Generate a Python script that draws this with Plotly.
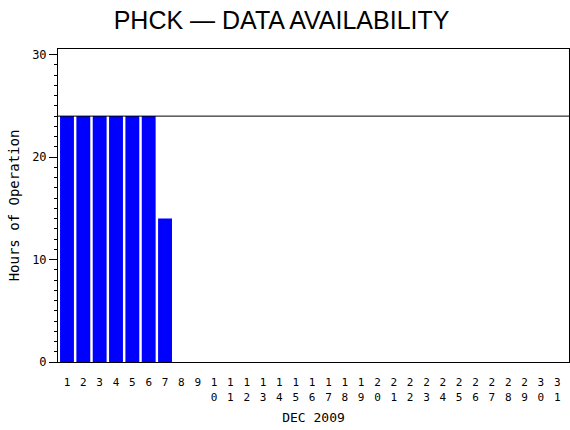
import plotly.graph_objects as go

days = list(range(1, 32))
hours = [24, 24, 24, 24, 24, 24, 14] + [0] * 24
tick_labels = [str(d) if d < 10 else "<br>".join(str(d)) for d in days]
y_ticks = [0, 10, 20, 30]
full_day = 24

mono = "DejaVu Sans Mono, monospace"

fig = go.Figure()
fig.add_trace(go.Bar(x=days, y=hours, marker=dict(color="#0000ff", line=dict(width=0)),
                     width=0.85))
fig.add_hline(y=full_day, line=dict(color="black", width=1))

fig.update_layout(
    width=570, height=430,
    margin=dict(l=58, r=1, t=49, b=68),
    paper_bgcolor="white", plot_bgcolor="white",
    showlegend=False,
    title=dict(text="PHCK \u2014 DATA AVAILABILITY", x=0.494, xanchor="center",
               y=0.953, yanchor="middle",
               font=dict(family="Liberation Sans, Arial", size=25, color="black")),
    font=dict(family=mono, size=12, color="black"),
)
fig.update_xaxes(
    range=[0.45, 31.72], tickmode="array", tickvals=days, ticktext=tick_labels,
    showline=True, linecolor="black", linewidth=1, mirror=True,
    showgrid=False, zeroline=False, ticks="", tickangle=0,
    ticklabelstandoff=10, automargin=False,
    tickfont=dict(family=mono, size=11),
    title=dict(text="DEC 2009", font=dict(family=mono, size=13), standoff=10),
)
fig.update_yaxes(
    range=[0, 30.55], tickmode="array", tickvals=y_ticks,
    showline=True, linecolor="black", linewidth=1, mirror=True,
    showgrid=False, zeroline=False, ticks="outside", ticklen=8, tickcolor="black",
    minor=dict(dtick=1, ticks="outside", ticklen=3, tickcolor="black", showgrid=False),
    automargin=False,
    tickfont=dict(family=mono, size=12),
    title=dict(text="Hours of Operation", font=dict(family=mono, size=14), standoff=9),
)
fig.write_html("out.html", post_script="document.body.style.margin='0';",
               config={"displayModeBar": False})
